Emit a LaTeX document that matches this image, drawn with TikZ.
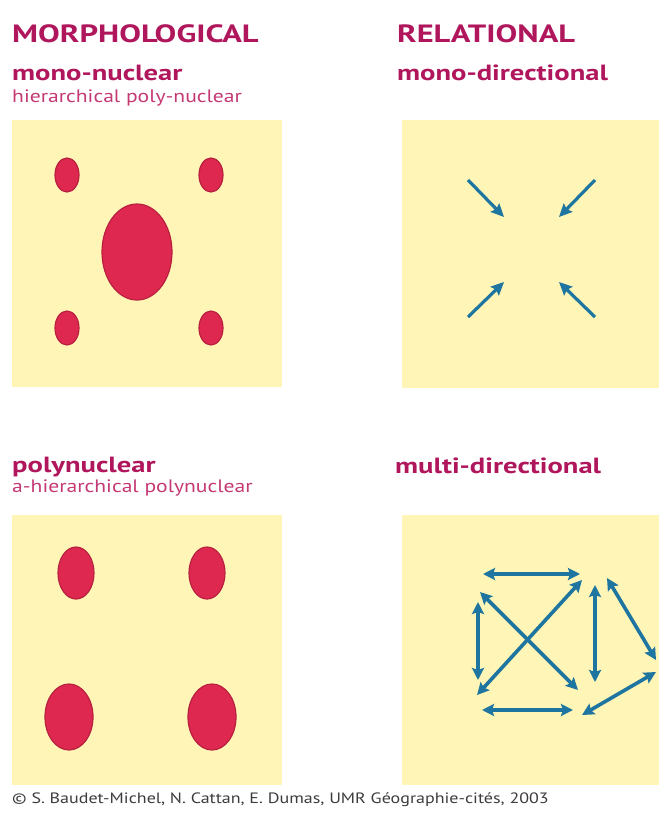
\documentclass[tikz,border=0pt]{standalone}
\usepackage{fontspec}
\setmainfont{PT Sans}[FakeStretch=1.2]
\newfontfamily\headfont{PT Sans}[FakeStretch=1.3]
\usetikzlibrary{arrows.meta,shapes.geometric}
\definecolor{panelyellow}{RGB}{255,245,182}
\definecolor{blobred}{RGB}{222,40,80}
\definecolor{blobedge}{RGB}{184,32,64}
\definecolor{flowblue}{RGB}{30,118,160}
\definecolor{headmag}{RGB}{176,22,92}
\definecolor{submag}{RGB}{196,56,116}
\definecolor{creditgrey}{RGB}{60,60,60}
\tikzset{
  panel/.style   ={fill=panelyellow, draw=none, anchor=north west, inner sep=0pt},
  nucleus/.style ={ellipse, fill=blobred, draw=blobedge, line width=1.2pt, inner sep=0pt},
  ttl/.style     ={anchor=base west, inner sep=0pt, text=headmag,
                   font=\headfont\bfseries\fontsize{25}{29}\selectfont},
  kind/.style    ={anchor=base west, inner sep=0pt, text=headmag,
                   font=\headfont\bfseries\fontsize{22}{26}\selectfont},
  note/.style    ={anchor=base west, inner sep=0pt, text=submag,
                   font=\fontsize{18}{22}\selectfont},
  credit/.style  ={anchor=base west, inner sep=0pt, text=creditgrey,
                   font=\fontsize{15}{18}\selectfont},
  ar/.style      ={-{Stealth[length=13pt,width=12pt,inset=2pt]}, draw=flowblue, line width=3.2pt},
  biar/.style    ={{Stealth[length=12pt,width=12pt,inset=2pt]}-{Stealth[length=12pt,width=12pt,inset=2pt]},
                   draw=flowblue, line width=3.6pt},
}

\begin{document}
\begin{tikzpicture}[x=1pt,y=-1pt]
\useasboundingbox (0,0) rectangle (659,814);
% panels
\node[panel, minimum width=270pt, minimum height=267pt] (pmono) at (12,120) {};
\node[panel, minimum width=257pt, minimum height=268pt] (pdir) at (402,120) {};
\node[panel, minimum width=270pt, minimum height=270pt] (ppoly) at (12,515) {};
\node[panel, minimum width=257pt, minimum height=270pt] (pmulti) at (402,515) {};
% headings
\node[ttl] (morph) at (12,42) {MORPHOLOGICAL};
\node[ttl] (rel) at (397,42) {RELATIONAL};
\node[kind] (mononuc) at (12,80) {mono-nuclear};
\node[note] (hier) at (12,102) {hierarchical poly-nuclear};
\node[kind] (monodir) at (397,80) {mono-directional};
\node[kind] (polynuc) at (12,472) {polynuclear};
\node[note] (ahier) at (12,492) {a-hierarchical polynuclear};
\node[kind] (multidir) at (395,473) {multi-directional};
\node[credit] (src) at (12,803) {© S. Baudet-Michel, N. Cattan, E. Dumas, UMR Géographie-cités, 2003};
% mono-nuclear
\node[nucleus, minimum width=24pt, minimum height=34pt] (m1) at (67,175) {};
\node[nucleus, minimum width=24pt, minimum height=34pt] (m2) at (211,175) {};
\node[nucleus, minimum width=70pt, minimum height=96pt] (mc) at (137,252) {};
\node[nucleus, minimum width=24pt, minimum height=34pt] (m3) at (67,328) {};
\node[nucleus, minimum width=24pt, minimum height=34pt] (m4) at (211,328) {};
% polynuclear
\node[nucleus, minimum width=36pt, minimum height=52pt] (p1) at (76,573) {};
\node[nucleus, minimum width=36pt, minimum height=52pt] (p2) at (207,573) {};
\node[nucleus, minimum width=48pt, minimum height=66pt] (p3) at (69,717) {};
\node[nucleus, minimum width=48pt, minimum height=66pt] (p4) at (212,717) {};
% mono-directional
\coordinate (d1a) at (468,180); \coordinate (d1b) at (504,217);
\coordinate (d2a) at (595,180); \coordinate (d2b) at (559,217);
\coordinate (d3a) at (468,317); \coordinate (d3b) at (504,282);
\coordinate (d4a) at (595,317); \coordinate (d4b) at (559,282);
\draw[ar] (d1a) -- (d1b); \draw[ar] (d2a) -- (d2b);
\draw[ar] (d3a) -- (d3b); \draw[ar] (d4a) -- (d4b);
% multi-directional
\coordinate (t1) at (483,574); \coordinate (t2) at (580,574);
\coordinate (l1) at (478,602); \coordinate (l2) at (478,680);
\coordinate (x1) at (480,592); \coordinate (x2) at (578,690);
\coordinate (y1) at (477,695); \coordinate (y2) at (582,580);
\coordinate (v1) at (595,585); \coordinate (v2) at (595,682);
\coordinate (r1) at (607,578); \coordinate (r2) at (656,660);
\coordinate (s1) at (582,715); \coordinate (s2) at (656,672);
\coordinate (b1) at (482,710); \coordinate (b2) at (573,710);
\draw[biar] (t1) -- (t2); \draw[biar] (l1) -- (l2);
\draw[biar] (x1) -- (x2); \draw[biar] (y1) -- (y2);
\draw[biar] (v1) -- (v2); \draw[biar] (r1) -- (r2);
\draw[biar] (s1) -- (s2); \draw[biar] (b1) -- (b2);
\end{tikzpicture}
\end{document}
